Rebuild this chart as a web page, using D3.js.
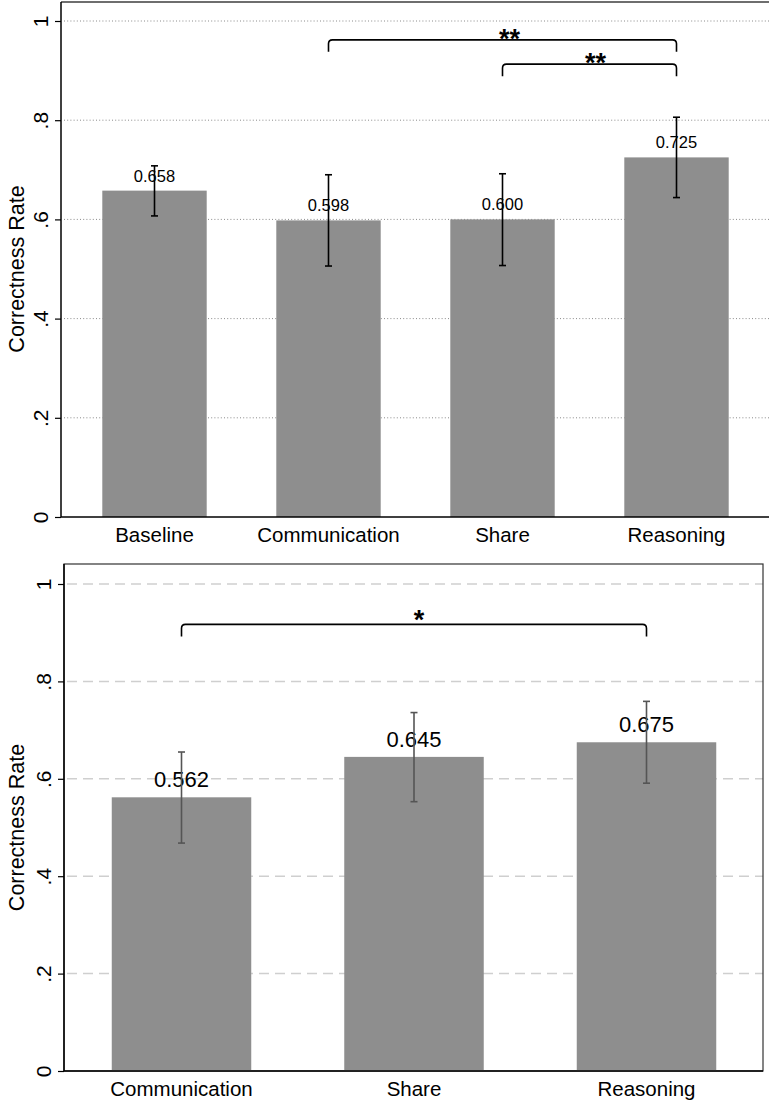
<!DOCTYPE html>
<html>
<head>
<meta charset="utf-8">
<script src="https://cdn.jsdelivr.net/npm/d3@7"></script>
<style>
  html, body { margin: 0; padding: 0; background: #fff; }
  svg { display: block; }
  text { font-family: "Liberation Sans", Arial, Helvetica, sans-serif; fill: #000; }
</style>
</head>
<body>
<svg id="chart" width="769" height="1102"></svg>
<script>
// ---------- Data ----------
const yTicks = [0, 0.2, 0.4, 0.6, 0.8, 1];
const yTickLabels = ["0", ".2", ".4", ".6", ".8", "1"];
const yTitle = "Correctness Rate";

// Top panel
const topCategories = ["Baseline", "Communication", "Share", "Reasoning"];
const topMeans = [0.658, 0.598, 0.600, 0.725];
const topLower = [0.607, 0.506, 0.507, 0.644];
const topUpper = [0.708, 0.690, 0.692, 0.806];
const topValueLabels = ["0.658", "0.598", "0.600", "0.725"];
const topBracketFrom = ["Communication", "Share"];
const topBracketTo = ["Reasoning", "Reasoning"];
const topBracketLevel = [0.962, 0.913];
const topBracketLabel = ["**", "**"];

// Bottom panel
const botCategories = ["Communication", "Share", "Reasoning"];
const botMeans = [0.562, 0.645, 0.675];
const botLower = [0.468, 0.553, 0.591];
const botUpper = [0.655, 0.736, 0.759];
const botValueLabels = ["0.562", "0.645", "0.675"];
const botBracketFrom = ["Communication"];
const botBracketTo = ["Reasoning"];
const botBracketLevel = [0.917];
const botBracketLabel = ["*"];

// ---------- Drawing ----------
const svg = d3.select("#chart");
const FONT = '"Liberation Sans", Arial, Helvetica, sans-serif';

function bracketPath(x1, x2, yH, yEnd, r) {
  return `M${x1},${yEnd} L${x1},${yH + r} Q${x1},${yH} ${x1 + r},${yH} ` +
         `L${x2 - r},${yH} Q${x2},${yH} ${x2},${yH + r} L${x2},${yEnd}`;
}

function drawPanel(cfg) {
  const g = svg.append("g");
  const x = d3.scaleBand().domain(cfg.categories)
    .range(cfg.xRange).paddingInner(0.4).paddingOuter(0.2);
  const y = d3.scaleLinear().domain([0, 1]).range(cfg.yRange);

  // gridlines
  g.append("g").selectAll("line")
    .data(yTicks.filter(t => t > 0))
    .join("line")
    .attr("x1", cfg.axisX + 3).attr("x2", cfg.plotRight)
    .attr("y1", d => y(d)).attr("y2", d => y(d))
    .attr("stroke", cfg.gridColor)
    .attr("stroke-width", cfg.gridWidth)
    .attr("stroke-dasharray", cfg.gridDash);

  // frame
  if (cfg.fullBox) {
    g.append("rect")
      .attr("x", cfg.axisX).attr("y", cfg.boxTop)
      .attr("width", cfg.plotRight - cfg.axisX)
      .attr("height", y(0) - cfg.boxTop)
      .attr("fill", "none").attr("stroke", "#333").attr("stroke-width", 1.2);
  } else {
    g.append("line")
      .attr("x1", cfg.axisX).attr("x2", cfg.plotRight)
      .attr("y1", cfg.boxTop).attr("y2", cfg.boxTop)
      .attr("stroke", "#6e6e6e").attr("stroke-width", 2);
  }

  // bars
  const data = cfg.categories.map((c, i) => ({
    c, m: cfg.means[i], lo: cfg.lower[i], hi: cfg.upper[i], lab: cfg.labels[i]
  }));
  g.append("g").selectAll("rect")
    .data(data).join("rect")
    .attr("x", d => x(d.c)).attr("width", x.bandwidth())
    .attr("y", d => y(d.m)).attr("height", d => y(0) - y(d.m))
    .attr("fill", "#8e8e8e");

  // value labels
  g.append("g").selectAll("text")
    .data(data).join("text")
    .attr("x", d => x(d.c) + x.bandwidth() / 2)
    .attr("y", d => y(d.m) - cfg.labelGap)
    .attr("text-anchor", "middle")
    .attr("font-size", cfg.labelSize)
    .text(d => d.lab);

  // error bars
  const eb = g.append("g").attr("stroke", cfg.errColor).attr("stroke-width", 1.6).attr("fill", "none");
  data.forEach(d => {
    const cx = x(d.c) + x.bandwidth() / 2;
    eb.append("line").attr("x1", cx).attr("x2", cx).attr("y1", y(d.hi)).attr("y2", y(d.lo));
    eb.append("line").attr("x1", cx - 3.5).attr("x2", cx + 3.5).attr("y1", y(d.hi)).attr("y2", y(d.hi));
    eb.append("line").attr("x1", cx - 3.5).attr("x2", cx + 3.5).attr("y1", y(d.lo)).attr("y2", y(d.lo));
  });

  // axes
  const yAxis = d3.axisLeft(y).tickValues(yTicks)
    .tickFormat((d, i) => yTickLabels[i]).tickSize(6).tickSizeOuter(0);
  const ya = g.append("g").attr("transform", `translate(${cfg.axisX},0)`).call(yAxis);
  ya.select(".domain").attr("stroke", "#000").attr("stroke-width", 1.5)
    .attr("d", `M0,${y(0)}V${cfg.boxTop}`);
  ya.selectAll(".tick line").attr("stroke", "#000").attr("stroke-width", 1.2);
  ya.selectAll(".tick text")
    .attr("font-size", 21)
    .attr("font-family", FONT)
    .attr("text-anchor", "middle")
    .attr("dy", null)
    .attr("x", null)
    .attr("transform", "translate(-13,0) rotate(-90)")
    .attr("y", 0);

  const xAxis = d3.axisBottom(x).tickSize(0).tickSizeOuter(0);
  const xa = g.append("g").attr("transform", `translate(0,${y(0)})`).call(xAxis);
  xa.select(".domain").attr("stroke", "#000").attr("stroke-width", 1.5)
    .attr("d", `M${cfg.axisX},0H${cfg.plotRight}`);
  xa.selectAll(".tick text")
    .attr("font-size", 20.5)
    .attr("font-family", FONT)
    .attr("dy", null).attr("y", 25);

  // y title
  g.append("text")
    .attr("transform", `translate(24,${(y(0) + y(1)) / 2}) rotate(-90)`)
    .attr("text-anchor", "middle")
    .attr("font-size", 21.5)
    .text(yTitle);

  // brackets
  cfg.bFrom.forEach((f, i) => {
    const x1 = x(f) + x.bandwidth() / 2;
    const x2 = x(cfg.bTo[i]) + x.bandwidth() / 2;
    const yH = y(cfg.bLevel[i]);
    g.append("path")
      .attr("d", bracketPath(x1, x2, yH, yH + 12, 4))
      .attr("fill", "none").attr("stroke", "#000").attr("stroke-width", 1.6);
    g.append("text")
      .attr("x", (x1 + x2) / 2 + cfg.starDx[i])
      .attr("y", yH + cfg.starDy)
      .attr("text-anchor", "middle")
      .attr("font-size", 27)
      .attr("font-weight", "bold")
      .text(cfg.bLabel[i]);
  });
}

drawPanel({
  categories: topCategories, means: topMeans, lower: topLower, upper: topUpper,
  labels: topValueLabels,
  xRange: [67.5, 763.5], yRange: [517, 21],
  axisX: 61, plotRight: 769, boxTop: 2, fullBox: false,
  gridColor: "#8a8a8a", gridWidth: 1, gridDash: "1 2.2",
  labelSize: 16.5, labelGap: 9, errColor: "#000",
  bFrom: topBracketFrom, bTo: topBracketTo, bLevel: topBracketLevel, bLabel: topBracketLabel,
  starDx: [7, 6], starDy: 8
});

drawPanel({
  categories: botCategories, means: botMeans, lower: botLower, upper: botUpper,
  labels: botValueLabels,
  xRange: [65.25, 762.75], yRange: [1071, 584],
  axisX: 64, plotRight: 763, boxTop: 564, fullBox: true,
  gridColor: "#cfcfcf", gridWidth: 1.5, gridDash: "10 6",
  labelSize: 22, labelGap: 10, errColor: "#555",
  bFrom: botBracketFrom, bTo: botBracketTo, bLevel: botBracketLevel, bLabel: botBracketLabel,
  starDx: [5], starDy: 4.5
});
</script>
</body>
</html>
